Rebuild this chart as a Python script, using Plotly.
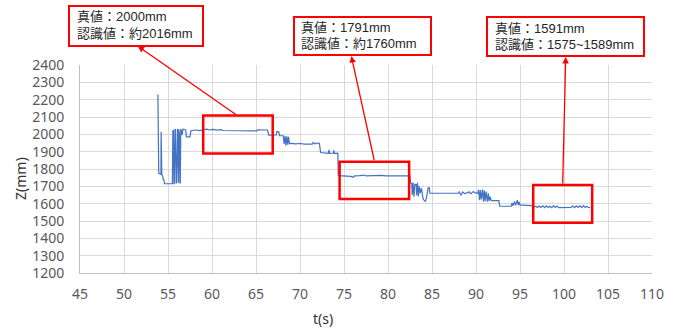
import plotly.graph_objects as go

# ---- data ----
t_s = [53.85, 53.88, 53.95, 54.1, 54.2, 54.22, 54.27, 54.3, 54.4, 54.45, 54.55, 54.6, 55.0, 55.5,
       55.55, 55.62, 55.67, 55.72, 55.8, 55.85, 55.92, 55.97, 56.08, 56.12, 56.18, 56.22,
       56.3, 56.35, 56.4, 56.45, 56.5, 56.6, 56.7, 56.8, 57.0, 57.1, 57.2, 57.5, 57.6,
       57.7, 58.2, 58.6, 59.0, 59.4, 59.7, 60.1, 60.6, 61.0, 61.3, 61.8, 62.2, 62.7, 63.2, 63.7,
       64.2, 64.7, 65.1, 65.2, 65.8, 66.3, 66.45, 66.9, 67.3, 67.35, 67.6, 67.65, 68.1, 68.2,
       68.3, 68.4, 68.5, 68.6, 68.7, 68.8, 68.9, 69.5, 70.0, 70.5, 71.0, 71.4, 71.5, 71.7, 72.0,
       72.2, 72.35, 72.9, 73.2, 73.3, 73.35, 73.8, 73.85, 73.9, 74.3, 74.35,
       74.8, 75.3, 75.8, 76.0, 76.2, 76.8, 77.3, 77.5, 78.0, 78.6, 79.2, 79.8, 80.4, 81.0, 81.6,
       82.2, 82.5, 82.55, 82.7, 82.75, 82.85, 82.95, 83.05, 83.2, 83.25, 83.35, 83.45, 83.55,
       83.65, 83.8, 83.9, 84.0, 84.25, 84.4, 84.55, 84.7, 84.75,
       85.5, 86.5, 87.5, 88.0, 88.1, 88.3, 88.5, 88.7, 89.0, 89.2, 89.4, 89.7, 89.9, 90.2, 90.3,
       90.4, 90.5, 90.6, 90.75, 90.85, 90.95, 91.05, 91.15, 91.3, 91.4, 91.5, 91.6, 91.75, 92.6,
       92.7, 93.5, 94.0, 94.1, 94.2, 94.4, 94.5, 94.7, 94.8, 94.9, 95.0, 95.3, 95.8, 96.3, 96.6,
       96.8, 97.0, 97.2, 97.4, 97.6, 97.8, 98.0, 98.2, 98.4, 98.6, 98.8, 99.0, 99.2, 99.4, 99.8,
       100.2, 100.4, 100.8, 101.0, 101.2, 101.4, 101.6, 101.8, 102.0, 102.2, 102.4, 102.6, 102.8,
       103.0]
z_mm = [2230, 1780, 1775, 1772, 1770, 2015, 1770, 1765, 1760, 1740, 1735, 1715, 1715, 1715,
        2020, 2022, 1715, 1715, 2030, 2028, 1720, 1720, 2030, 1720, 1720, 2030,
        2000, 1720, 1720, 2030, 2025, 1995, 2030, 2028, 2025, 1985, 1985, 1985, 2020,
        2022, 2025, 2022, 2026, 2030, 2025, 2028, 2024, 2027, 2022, 2022, 2020, 2021, 2019, 2020,
        2020, 2021, 2020, 2026, 2027, 2025, 1995, 1994, 1996, 2015, 2014, 1993, 1992, 1945,
        1990, 1935, 1988, 1940, 1985, 1945, 1948, 1945, 1947, 1944, 1946, 1944, 1953, 1945, 1950,
        1948, 1895, 1893, 1890, 1910, 1890, 1892, 1908, 1890, 1892, 1762,
        1760, 1762, 1757, 1752, 1760, 1762, 1765, 1760, 1762, 1760, 1763, 1760, 1762, 1760, 1761,
        1760, 1760, 1720, 1718, 1650, 1720, 1640, 1712, 1710, 1648, 1720, 1642, 1700,
        1660, 1690, 1640, 1625, 1612, 1640, 1690, 1692, 1660,
        1660, 1661, 1660, 1660, 1668, 1650, 1667, 1658, 1662, 1668, 1657, 1670, 1662, 1660, 1680,
        1620, 1678, 1625, 1682, 1612, 1675, 1615, 1670, 1612, 1660, 1615, 1640, 1618, 1618,
        1585, 1585, 1585, 1605, 1588, 1612, 1590, 1620, 1592, 1610, 1592, 1592, 1590, 1589, 1580,
        1585, 1578, 1586, 1578, 1587, 1577, 1588, 1578, 1585, 1577, 1588, 1578, 1586, 1577, 1577,
        1578, 1577, 1578, 1586, 1577, 1588, 1578, 1587, 1577, 1589, 1578, 1585, 1577,
        1578]

x_ticks = [45, 50, 55, 60, 65, 70, 75, 80, 85, 90, 95, 100, 105, 110]
y_ticks = [1200, 1300, 1400, 1500, 1600, 1700, 1800, 1900, 2000, 2100, 2200, 2300, 2400]

# highlighted regions (t0, t1, z0, z1)
region_t0 = [59.0, 74.5, 96.5]
region_t1 = [66.9, 82.4, 103.2]
region_z0 = [1890, 1627, 1490]
region_z1 = [2108, 1842, 1707]

callout_line1 = ["真値：2000mm", "真値：1791mm", "真値：1591mm"]
callout_line2 = ["認識値：約2016mm", "認識値：約1760mm", "認識値：1575~1589mm"]

# ---- figure ----
W, H = 685, 333
L, R, T, B = 80, 33, 65, 60
PW, PH = W - L - R, H - T - B


def px_x(px):
    return (px - L) / PW


def px_y(py):
    return (H - B - py) / PH


def data_t(px):
    return 45 + (px - L) / PW * 65


def data_z(py):
    return 2400 - (py - T) / PH * 1200


fig = go.Figure()
fig.add_trace(go.Scatter(x=t_s, y=z_mm, mode="lines",
                         line=dict(color="#4472C4", width=1.2), showlegend=False,
                         hoverinfo="skip"))

shapes = []
for a, b, c, d in zip(region_t0, region_t1, region_z0, region_z1):
    shapes.append(dict(type="rect", xref="x", yref="y", x0=a, x1=b, y0=c, y1=d,
                       line=dict(color="#FF0000", width=2.5), fillcolor="rgba(0,0,0,0)"))

# callout boxes in pixel coordinates (left, top, right, bottom), text left, line1 y, line2 y
boxes = [(69, 6, 203, 46, 75, 17, 33.5),
         (294, 17, 431, 55, 299, 27.5, 43.5),
         (487, 17, 644, 56, 493, 29, 45)]
for (x0, y0, x1, y1, tx, ty1, ty2) in boxes:
    shapes.append(dict(type="rect", xref="paper", yref="paper",
                       x0=px_x(x0), x1=px_x(x1), y0=px_y(y1), y1=px_y(y0),
                       line=dict(color="#FF0000", width=2), fillcolor="white", layer="above"))

callout_font = dict(family="Liberation Sans, Noto Sans CJK JP", size=13, color="#262626")
annotations = []
for (x0, y0, x1, y1, tx, ty1, ty2), s1, s2 in zip(boxes, callout_line1, callout_line2):
    for ty, s in ((ty1, s1), (ty2, s2)):
        annotations.append(dict(xref="paper", yref="paper", x=px_x(tx), y=px_y(ty),
                                xanchor="left", yanchor="middle", align="left",
                                showarrow=False, text=s, font=callout_font))

# arrows: head at callout, tail at region box top
arrows = [((137.7, 46), (237.3, 115.5)),
          ((351.3, 56), (374.5, 161.5)),
          ((565.7, 57), (562.7, 185))]
for (hx, hy), (tx, ty) in arrows:
    annotations.append(dict(xref="x", yref="y", axref="x", ayref="y",
                            x=data_t(hx), y=data_z(hy), ax=data_t(tx), ay=data_z(ty),
                            text="", showarrow=True, arrowhead=2, arrowsize=1,
                            arrowwidth=1.3, arrowcolor="#FF0000", standoff=0, startstandoff=0))

annotations.append(dict(xref="paper", yref="paper", x=px_x(20), y=px_y(179),
                        xanchor="center", yanchor="middle",
                        text="Z(mm)", textangle=-90, showarrow=False,
                        font=dict(family="Noto Sans", size=14, color="#333333")))
annotations.append(dict(xref="paper", yref="paper", x=px_x(323), y=px_y(318),
                        xanchor="center", yanchor="middle",
                        text="t(s)", showarrow=False,
                        font=dict(family="Noto Sans", size=14, color="#333333")))

fig.update_layout(
    width=W, height=H, margin=dict(l=L, r=R, t=T, b=B),
    paper_bgcolor="white", plot_bgcolor="white",
    shapes=shapes, annotations=annotations,
    font=dict(family="Noto Sans", size=14, color="#595959"),
    xaxis=dict(range=[45, 110], tickvals=x_ticks, ticktext=[str(v) for v in x_ticks],
               showgrid=True, gridcolor="#D9D9D9", gridwidth=1,
               showline=True, linecolor="#BFBFBF", linewidth=1,
               zeroline=False, ticks="", ticklabelstandoff=8,
               tickfont=dict(family="Noto Sans", size=14, color="#595959")),
    yaxis=dict(range=[1200, 2400], tickvals=y_ticks, ticktext=[str(v) for v in y_ticks],
               showgrid=True, gridcolor="#D9D9D9", gridwidth=1,
               showline=True, linecolor="#BFBFBF", linewidth=1,
               zeroline=False, ticks="", ticklabelstandoff=12,
               tickfont=dict(family="Noto Sans", size=14, color="#595959")),
)

fig.write_html("out.html", config={"displayModeBar": False, "staticPlot": True},
               post_script="document.body.style.margin='0';document.body.style.overflow='hidden';")
